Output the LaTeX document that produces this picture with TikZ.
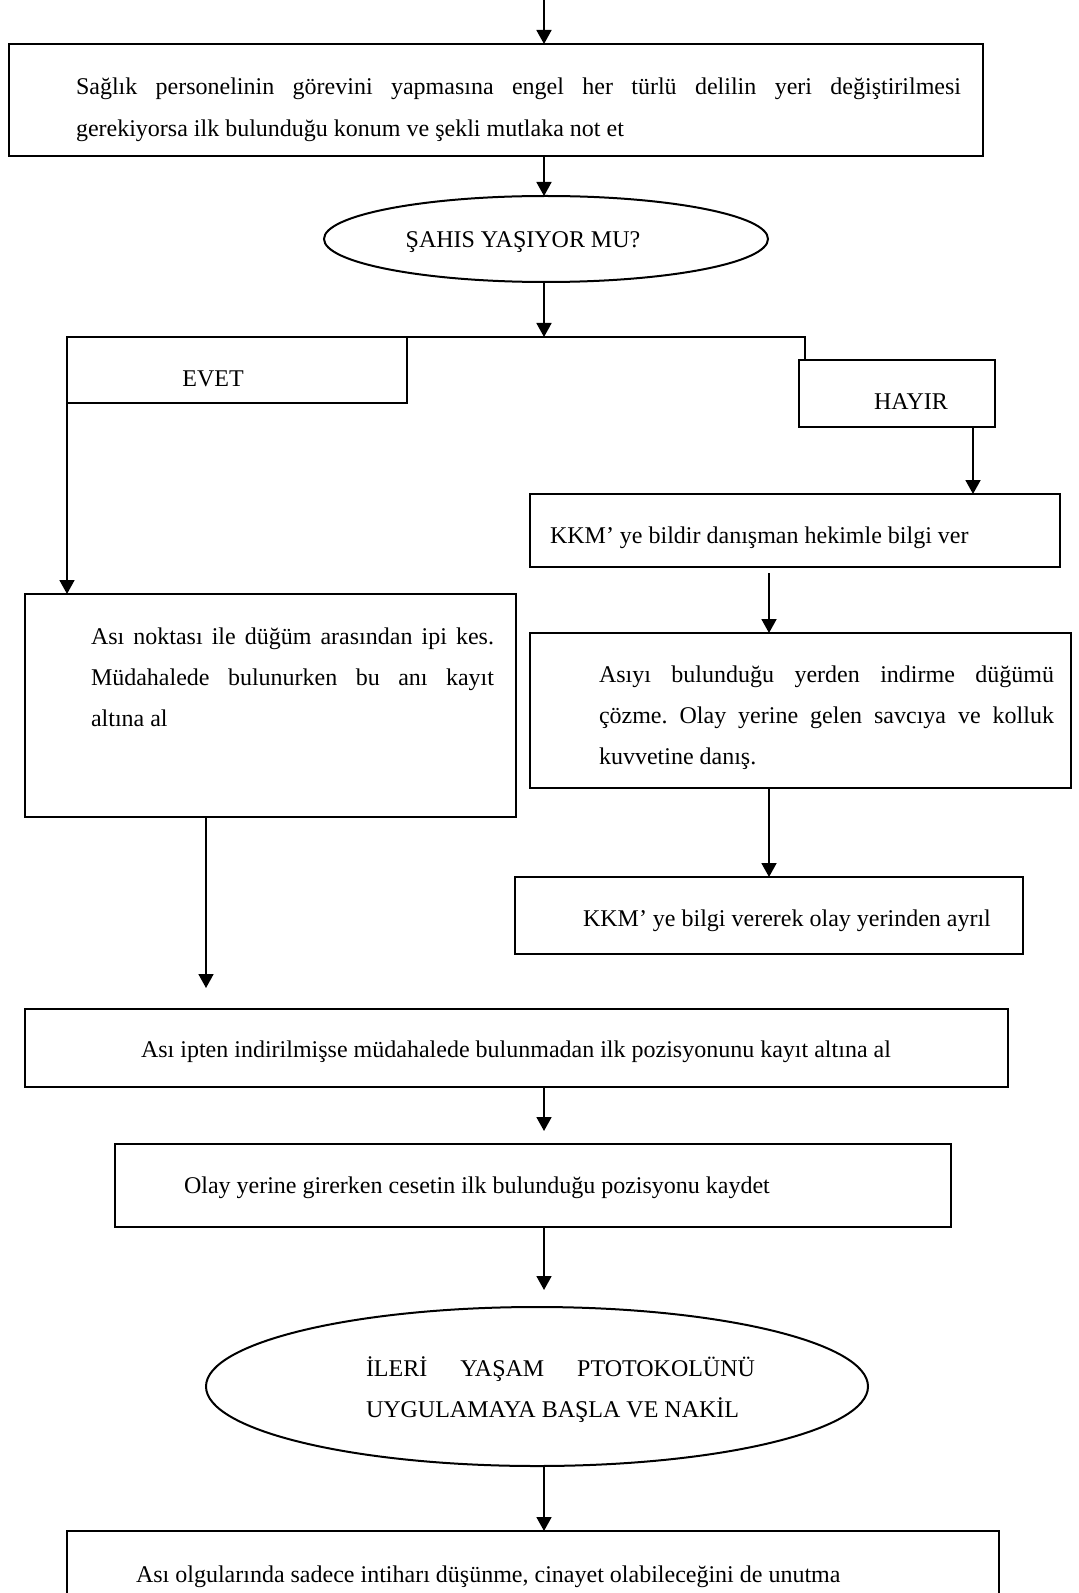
\documentclass[tikz,border=0pt]{standalone}
\usepackage{fontspec}
\setmainfont{Liberation Serif}
\usetikzlibrary{arrows.meta,shapes.geometric,fit,calc}

\frenchspacing
\newcommand{\jline}[2]{\makebox[#1][s]{#2}}

\tikzset{
  frame/.style={draw, line width=1pt, inner sep=0pt, outer sep=0pt},
  oval/.style={draw, ellipse, line width=1pt, inner sep=0pt, outer sep=0pt},
  arr/.style={line width=0.9pt, -{Triangle[length=7pt,width=7.5pt]}},
  link/.style={line width=0.8pt},
  txt/.style={inner sep=0pt, outer sep=0pt, anchor=base west, font=\fontsize{12}{14}\selectfont},
  ctxt/.style={txt, anchor=base},
}

\begin{document}
\begin{tikzpicture}[x=0.5pt, y=-0.5pt]
\useasboundingbox (0,0) rectangle (1078,1593);
\clip (0,0) rectangle (1078,1593);

% vertical guide positions of the connectors
\coordinate (xc) at (544,0);
\coordinate (xl) at (67,0);
\coordinate (xm) at (206,0);
\coordinate (xr) at (769,0);
\coordinate (xh) at (973,0);
\coordinate (xb) at (805,0);
\coordinate (lend) at (206,988);

% boxes
\node[frame, fit={(9,44) (983,156)}] (b1) {};
\node[oval, minimum width=222pt, minimum height=43pt] (e1) at (546,239) {};
\node[frame, fit={(67,337) (407,403)}] (ev) {};
\node[frame, fit={(799,360) (995,427)}] (hy) {};
\node[frame, fit={(530,494) (1060,567)}] (kkm1) {};
\node[frame, fit={(25,594) (516,817)}] (lb) {};
\node[frame, fit={(530,633) (1071,788)}] (rb) {};
\node[frame, fit={(515,877) (1023,954)}] (kkm2) {};
\node[frame, fit={(25,1009) (1008,1087)}] (ip) {};
\node[frame, fit={(115,1144) (951,1227)}] (olay) {};
\node[oval, minimum width=331pt, minimum height=79.5pt] (e2) at (537,1386.5) {};
\node[frame, fit={(67,1531) (999,1660)}] (bb) {};

% texts
\node[txt] (t1a) at (76,95) {\jline{442.5pt}{Sağlık personelinin görevini yapmasına engel her türlü delilin yeri değiştirilmesi}};
\node[txt] (t1b) at (76,137) {gerekiyorsa ilk bulunduğu konum ve şekli mutlaka not et};
\node[ctxt] (t2) at (523,248) {ŞAHIS YAŞIYOR MU?};
\node[ctxt] (t3) at (213,387) {EVET};
\node[ctxt] (t4) at (911,410) {HAYIR};
\node[txt] (t5) at (550,543) {KKM’ ye bildir danışman hekimle bilgi ver};
\node[txt] (t6a) at (91,644) {\jline{201.5pt}{Ası noktası ile düğüm arasından ipi kes.}};
\node[txt] (t6b) at (91,685) {\jline{201.5pt}{Müdahalede bulunurken bu anı kayıt}};
\node[txt] (t6c) at (91,726) {altına al};
\node[txt] (t7a) at (599,682) {\jline{227.5pt}{Asıyı bulunduğu yerden indirme düğümü}};
\node[txt] (t7b) at (599,723) {\jline{227.5pt}{çözme. Olay yerine gelen savcıya ve kolluk}};
\node[txt] (t7c) at (599,764) {kuvvetine danış.};
\node[txt] (t8) at (583,926) {KKM’ ye bilgi vererek olay yerinden ayrıl};
\node[txt] (t9) at (141,1057) {Ası ipten indirilmişse müdahalede bulunmadan ilk pozisyonunu kayıt altına al};
\node[txt] (t10) at (184,1193) {Olay yerine girerken cesetin ilk bulunduğu pozisyonu kaydet};
\node[txt] (t11a) at (366,1376) {\jline{194.5pt}{İLERİ YAŞAM PTOTOKOLÜNÜ}};
\node[txt] (t11b) at (366,1417) {UYGULAMAYA BAŞLA VE NAKİL};
\node[txt] (t12) at (136,1582) {Ası olgularında sadece intiharı düşünme, cinayet olabileceğini de unutma};

% connectors
\draw[arr] (xc) -- (b1.north -| xc);
\draw[arr] (b1.south -| xc) -- (e1.north -| xc);
\draw[arr] (e1.south -| xc) -- (ev.north -| xc);
\draw[link] (ev.north east) -- (ev.north east -| xb) -- (hy.north -| xb);
\draw[arr] (ev.south west) -- (lb.north -| xl);
\draw[arr] (hy.south -| xh) -- (kkm1.north -| xh);
\draw[arr] ($(kkm1.south -| xr)+(0,6)$) -- (rb.north -| xr);
\draw[arr] (rb.south -| xr) -- (kkm2.north -| xr);
\draw[arr] (lb.south -| xm) -- (lend);
\draw[arr] (ip.south -| xc) -- ($(olay.north -| xc)+(0,-13)$);
\draw[arr] (olay.south -| xc) -- ($(e2.north -| xc)+(0,-17)$);
\draw[arr] (e2.south -| xc) -- (bb.north -| xc);
\end{tikzpicture}
\end{document}
